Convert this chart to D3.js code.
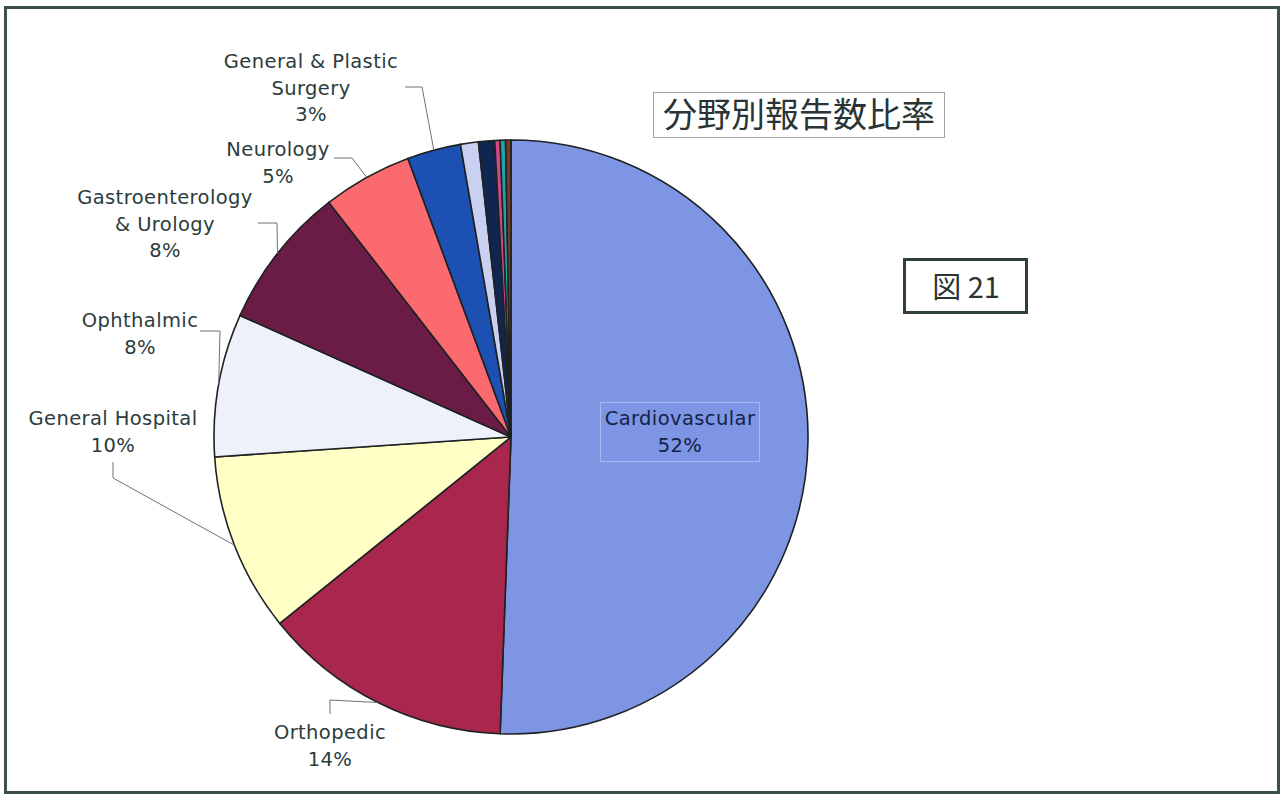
<!DOCTYPE html>
<html>
<head>
<meta charset="utf-8">
<script src="https://cdn.jsdelivr.net/npm/d3@7"></script>
<style>
  html, body { margin: 0; padding: 0; background: #ffffff; }
  svg text.lbl { font-family: "DejaVu Sans", "Noto Sans", sans-serif; letter-spacing: 0.4px; }
  svg text.jp { font-family: "Noto Sans CJK JP", "Noto Sans", sans-serif; }
</style>
</head>
<body>
<svg id="chart" width="1285" height="795"></svg>
<script>
// Share of reports by field (percent), clockwise from 12 o'clock
const categories = [
  "Cardiovascular", "Orthopedic", "General Hospital", "Ophthalmic",
  "Gastroenterology & Urology", "Neurology", "General & Plastic Surgery",
  "Radiology", "Anesthesiology", "Dental", "Obstetrics & Gynecology", "Other"
];
const values = [52, 14, 10, 8, 8, 5, 3, 1.0, 0.9, 0.3, 0.3, 0.3];
const percentLabels = ["52%", "14%", "10%", "8%", "8%", "5%", "3%", "", "", "", "", ""];
const nameLines = [
  ["Cardiovascular"], ["Orthopedic"], ["General Hospital"], ["Ophthalmic"],
  ["Gastroenterology", "& Urology"], ["Neurology"], ["General & Plastic", "Surgery"],
  [], [], [], [], []
];
const sliceColors = [
  "#7d95e2", "#a9264d", "#ffffc6", "#eef0fa", "#6a1c47", "#fb6a6f",
  "#1c50b2", "#c9d0f2", "#10254f", "#d0488a", "#22a3a8", "#7a3a22"
];

const svg = d3.select("#chart");
const textColor = "#2c3c3c";

// outer frame
svg.append("rect")
  .attr("x", 5.5).attr("y", 7.5).attr("width", 1273).attr("height", 785)
  .attr("fill", "#fff").attr("stroke", "#3d4f4f").attr("stroke-width", 3);

// pie
const cx = 511, cy = 437, R = 297;
const data = categories.map((c, i) => ({ name: c, value: values[i], idx: i }));
const pie = d3.pie().value(d => d.value).sort(null).startAngle(0).endAngle(2 * Math.PI);
const arcs = pie(data);
const arc = d3.arc().innerRadius(0).outerRadius(R);
const color = d3.scaleOrdinal().domain(categories).range(sliceColors);

const g = svg.append("g").attr("transform", `translate(${cx},${cy})`);
g.selectAll("path.slice").data(arcs).enter().append("path")
  .attr("class", "slice")
  .attr("d", arc)
  .attr("fill", d => color(d.data.name))
  .attr("stroke", "#1e2222")
  .attr("stroke-width", 1.6)
  .attr("stroke-linejoin", "round");

// point on the rim at a slice's mid angle
function rimPoint(a) {
  const m = (a.startAngle + a.endAngle) / 2;
  return [cx + R * Math.sin(m), cy - R * Math.cos(m)];
}

// outside labels: text centre x, first baseline y, leader anchor and elbow
const outside = [
  { i: 1, x: 330, y: 739, anchor: [330, 714], elbow: [330, 700] },
  { i: 2, x: 113, y: 425, anchor: [113, 462], elbow: [113, 478] },
  { i: 3, x: 140, y: 327, anchor: [200, 331], elbow: [220, 331] },
  { i: 4, x: 165, y: 204, anchor: [258, 223], elbow: [277, 223] },
  { i: 5, x: 278, y: 156, anchor: [334, 158], elbow: [352, 158] },
  { i: 6, x: 311, y: 68, anchor: [405, 87], elbow: [422, 87] }
];
const lineH = 26.5;

outside.forEach(o => {
  const a = arcs[o.i];
  const p = rimPoint(a);
  svg.append("polyline")
    .attr("points", [o.anchor, o.elbow, p].map(q => q.join(",")).join(" "))
    .attr("fill", "none").attr("stroke", "#6a7474").attr("stroke-width", 1);
  const lines = nameLines[o.i].concat([percentLabels[o.i]]);
  const t = svg.append("text")
    .attr("class", "lbl")
    .attr("text-anchor", "middle")
    .attr("font-size", 19.5)
    .attr("fill", textColor);
  lines.forEach((s, k) => {
    t.append("tspan").attr("x", o.x).attr("y", o.y + k * lineH).text(s);
  });
});

// inside label for the largest slice
svg.append("rect")
  .attr("x", 600.5).attr("y", 402.5).attr("width", 159).attr("height", 59)
  .attr("fill", "none").attr("stroke", "#a9b9ee").attr("stroke-width", 1);
const tin = svg.append("text")
  .attr("class", "lbl")
  .attr("text-anchor", "middle").attr("font-size", 19.5).attr("fill", "#13224a");
tin.append("tspan").attr("x", 680).attr("y", 425).text(nameLines[0][0]);
tin.append("tspan").attr("x", 680).attr("y", 452).text(percentLabels[0]);

// title box
svg.append("rect")
  .attr("x", 653.5).attr("y", 92.5).attr("width", 291).attr("height", 45)
  .attr("fill", "#fff").attr("stroke", "#9aa4a4").attr("stroke-width", 1);
svg.append("text")
  .attr("class", "jp")
  .attr("x", 799).attr("y", 127).attr("text-anchor", "middle")
  .attr("font-size", 34).attr("fill", "#2a3434")
  .text("分野別報告数比率");

// figure number box
svg.append("rect")
  .attr("x", 904.5).attr("y", 259.5).attr("width", 122).attr("height", 53)
  .attr("fill", "#fff").attr("stroke", "#2f3f3f").attr("stroke-width", 3);
svg.append("text")
  .attr("class", "jp")
  .attr("x", 966).attr("y", 298).attr("text-anchor", "middle")
  .attr("font-size", 29).attr("fill", "#2a3434")
  .text("図 21");
</script>
</body>
</html>
